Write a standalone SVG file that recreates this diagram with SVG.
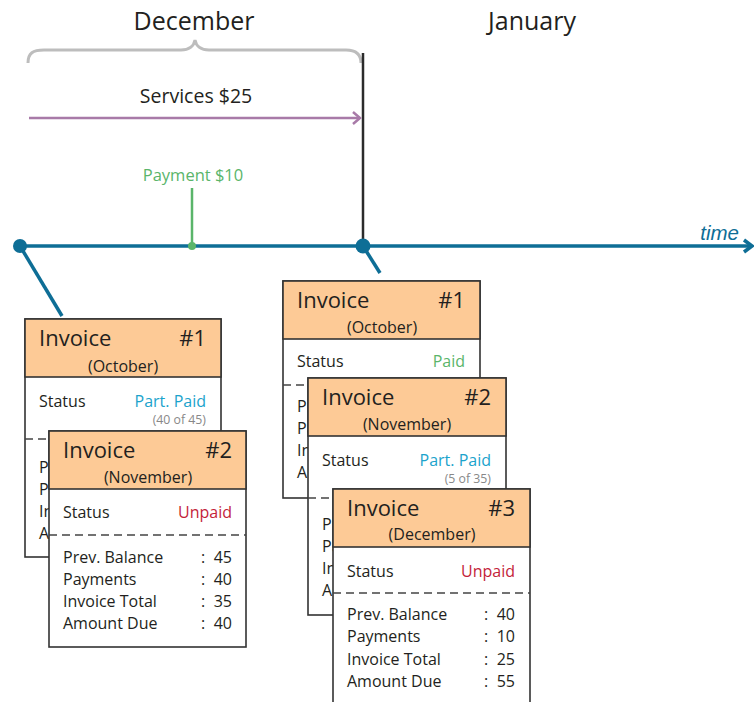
<svg xmlns="http://www.w3.org/2000/svg" width="754" height="702" viewBox="0 0 754 702">
<style>
text{font-family:"Open Sans","Noto Sans","Liberation Sans",sans-serif;fill:#231f20}
.card{fill:#fff;stroke:#333;stroke-width:1.6}
.head{fill:#fdca96;stroke:#333;stroke-width:1.6}
.h{font-size:22px}
.sub{font-size:16px;text-anchor:middle}
.t{font-size:16px}
.r{text-anchor:end}
.note{font-size:12.3px;fill:#888;text-anchor:end}
.dash{stroke:#444;stroke-width:1.3;stroke-dasharray:8,5}
.paid{fill:#5ab56a}
.part{fill:#1ba3cc}
.unpaid{fill:#c41e3a}
.tl{stroke:#0e6e96;stroke-width:3.5;fill:none}
</style>
<g id="annotations">
<text x="194" y="30" font-size="25" text-anchor="middle">December</text>
<text x="532" y="30" font-size="25" text-anchor="middle">January</text>
<path d="M28,63 C28,53 33,50 44,50 L181,50 C189,50 194,46 195,40 C196,46 201,50 209,50 L346,50 C356,50 361,54 361,63" fill="none" stroke="#bdbdbd" stroke-width="3"/>
<text x="196" y="103" font-size="19.5" text-anchor="middle">Services $25</text>
<text x="193" y="181" font-size="16.5" text-anchor="middle" class="paid">Payment $10</text>
<text x="739" y="240" font-size="20.5" font-style="italic" text-anchor="end" style="fill:#0e6e96;font-family:'Liberation Sans',sans-serif">time</text>
</g>
<g id="connectors">
<line x1="363" y1="53" x2="363" y2="246" stroke="#2b2b2b" stroke-width="2.5"/>
<line x1="29" y1="118" x2="360" y2="118" stroke="#a87aa8" stroke-width="2.5"/>
<polyline points="353,112 360,118 353,124" fill="none" stroke="#a87aa8" stroke-width="2.5"/>
<line x1="192" y1="188" x2="192" y2="246" stroke="#5ab56a" stroke-width="2.5"/>
<line class="tl" x1="20" y1="246" x2="752" y2="246"/>
<polyline class="tl" points="744,240 752,246 744,252"/>
<line class="tl" x1="20" y1="246" x2="62" y2="316" stroke-width="3"/>
<line class="tl" x1="363" y1="246" x2="380" y2="273" stroke-width="3"/>
<circle cx="20" cy="246" r="7" fill="#0e6e96"/>
<circle cx="363" cy="246" r="7.5" fill="#0e6e96"/>
<circle cx="192" cy="246" r="4" fill="#5ab56a"/>
</g>
<g id="invoice-1-dec" transform="translate(25,319)">
<rect class="card" x="0" y="0" width="196" height="238"/>
<rect class="head" x="0" y="0" width="196" height="58"/>
<text class="h" x="14" y="27">Invoice</text>
<text class="h r" x="181" y="27">#1</text>
<text class="sub" x="98" y="53">(October)</text>
<text class="t" x="14" y="88">Status</text>
<text class="t r part" x="181" y="88">Part. Paid</text>
<text class="note" x="181" y="105">(40 of 45)</text>
<line class="dash" x1="0" y1="120" x2="196" y2="120"/>
<text class="t" x="14" y="154">Pr</text>
<text class="t" x="14" y="176">Pa</text>
<text class="t" x="14" y="198">In</text>
<text class="t" x="14" y="220">Am</text>
</g>
<g id="invoice-2-dec" transform="translate(49,431)">
<rect class="card" x="0" y="0" width="197" height="216"/>
<rect class="head" x="0" y="0" width="197" height="58"/>
<text class="h" x="14" y="27">Invoice</text>
<text class="h r" x="183" y="27">#2</text>
<text class="sub" x="99" y="52">(November)</text>
<text class="t" x="14" y="87">Status</text>
<text class="t r unpaid" x="183" y="87">Unpaid</text>
<line class="dash" x1="0" y1="104" x2="197" y2="104"/>
<text class="t" x="14" y="132">Prev. Balance</text>
<text class="t" x="14" y="154">Payments</text>
<text class="t" x="14" y="176">Invoice Total</text>
<text class="t" x="14" y="198">Amount Due</text>
<text class="t" x="152" y="132">:</text><text class="t r" x="183" y="132">45</text>
<text class="t" x="152" y="154">:</text><text class="t r" x="183" y="154">40</text>
<text class="t" x="152" y="176">:</text><text class="t r" x="183" y="176">35</text>
<text class="t" x="152" y="198">:</text><text class="t r" x="183" y="198">40</text>
</g>
<g id="invoice-1-jan" transform="translate(283,281)">
<rect class="card" x="0" y="0" width="197" height="217"/>
<rect class="head" x="0" y="0" width="197" height="58"/>
<text class="h" x="14" y="27">Invoice</text>
<text class="h r" x="182" y="27">#1</text>
<text class="sub" x="99" y="52">(October)</text>
<text class="t" x="14" y="86">Status</text>
<text class="t r paid" x="182" y="86">Paid</text>
<line class="dash" x1="0" y1="104" x2="197" y2="104"/>
<text class="t" x="14" y="131">Pr</text>
<text class="t" x="14" y="153">Pa</text>
<text class="t" x="14" y="175">In</text>
<text class="t" x="14" y="197">Am</text>
</g>
<g id="invoice-2-jan" transform="translate(308,378)">
<rect class="card" x="0" y="0" width="198" height="237"/>
<rect class="head" x="0" y="0" width="198" height="58"/>
<text class="h" x="14" y="27">Invoice</text>
<text class="h r" x="183" y="27">#2</text>
<text class="sub" x="99" y="52">(November)</text>
<text class="t" x="14" y="88">Status</text>
<text class="t r part" x="183" y="88">Part. Paid</text>
<text class="note" x="183" y="105">(5 of 35)</text>
<line class="dash" x1="0" y1="120" x2="198" y2="120"/>
<text class="t" x="14" y="152">Pr</text>
<text class="t" x="14" y="174">Pa</text>
<text class="t" x="14" y="196">In</text>
<text class="t" x="14" y="218">Am</text>
</g>
<g id="invoice-3-jan" transform="translate(333,489)">
<rect class="card" x="0" y="0" width="197" height="230"/>
<rect class="head" x="0" y="0" width="197" height="58"/>
<text class="h" x="14" y="27">Invoice</text>
<text class="h r" x="182" y="27">#3</text>
<text class="sub" x="99" y="51">(December)</text>
<text class="t" x="14" y="88">Status</text>
<text class="t r unpaid" x="182" y="88">Unpaid</text>
<line class="dash" x1="0" y1="104" x2="197" y2="104"/>
<text class="t" x="14" y="131">Prev. Balance</text>
<text class="t" x="14" y="153">Payments</text>
<text class="t" x="14" y="176">Invoice Total</text>
<text class="t" x="14" y="198">Amount Due</text>
<text class="t" x="151" y="131">:</text><text class="t r" x="182" y="131">40</text>
<text class="t" x="151" y="153">:</text><text class="t r" x="182" y="153">10</text>
<text class="t" x="151" y="176">:</text><text class="t r" x="182" y="176">25</text>
<text class="t" x="151" y="198">:</text><text class="t r" x="182" y="198">55</text>
</g>
</svg>
